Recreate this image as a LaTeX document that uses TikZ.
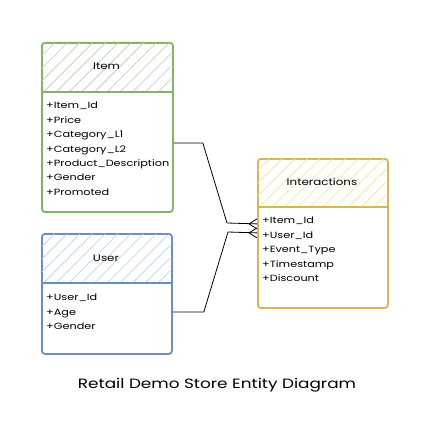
\documentclass[tikz,border=0pt]{standalone}
\usepackage{fontspec}
\setmainfont{Poppins}
\newfontfamily\hand[FakeStretch=1.25]{Poppins}
\usetikzlibrary{patterns.meta,calc}
\definecolor{gline}{HTML}{82B366}
\definecolor{gfill}{HTML}{BFD9B8}
\definecolor{bline}{HTML}{6C8EBF}
\definecolor{bfill}{HTML}{C3D6F0}
\definecolor{yline}{HTML}{D6B656}
\definecolor{yfill}{HTML}{F8E6A8}
\tikzset{
  ent/.style={draw, line width=1.8pt, rounded corners=3pt, fill=white, anchor=north west, inner sep=0pt},
  hatch/.style={pattern={Lines[angle=45,distance=9pt,line width=0.8pt]}, pattern color=#1},
  ttl/.style={font=\hand\fontsize{9.5}{11}\selectfont},
  attr/.style={font=\hand\fontsize{9}{14.4}\selectfont, align=left, anchor=north west, inner sep=0pt},
  conn/.style={draw=black, line width=0.8pt},
  captxt/.style={font=\hand\fontsize{13.5}{15}\selectfont}
}
\begin{document}
\begin{tikzpicture}[x=1pt,y=-1pt]
\useasboundingbox (0,0) rectangle (428,441);
% Item
\node[ent, draw=gline, minimum width=131pt, minimum height=169pt] (item) at (41,42) {};
\fill[hatch=gfill, rounded corners=3pt] (42,43) rectangle (171,92);
\draw[gline, line width=1.8pt] (41,92) -- (172,92);
\node[ttl] (itemt) at (106.5,66) {Item};
\node[attr] (itema) at (46,102) {+Item\_Id\\+Price\\+Category\_L1\\+Category\_L2\\+Product\_Description\\+Gender\\+Promoted};
% User
\node[ent, draw=bline, minimum width=130pt, minimum height=120pt] (user) at (41,233) {};
\fill[hatch=bfill, rounded corners=3pt] (42,234) rectangle (170,283);
\draw[bline, line width=1.8pt] (41,283) -- (171,283);
\node[ttl] (usert) at (106,258) {User};
\node[attr] (usera) at (46,294) {+User\_Id\\+Age\\+Gender};
% Interactions
\node[ent, draw=yline, minimum width=130pt, minimum height=149pt] (inter) at (257,158) {};
\fill[hatch=yfill, rounded corners=3pt] (258,159) rectangle (386,207);
\draw[yline, line width=1.8pt] (257,207) -- (387,207);
\node[ttl] (intert) at (322,182) {Interactions};
\node[attr] (intera) at (262,217) {+Item\_Id\\+User\_Id\\+Event\_Type\\+Timestamp\\+Discount};
% connectors
\coordinate (e1) at ($(inter.west)+(0,-9.5)$);
\coordinate (e2) at ($(inter.west)+(0,-0.5)$);
\draw[conn] ($(item.north east)+(0,101)$) -- ++(29,0) -- (227,223) -- (e1);
\draw[conn] ($(user.north east)+(0,79)$) -- ++(31,0) -- (228,232) -- (e2);
\foreach \e in {e1,e2}{
  \draw[conn] ($(\e)+(-8,0)$) -- ($(\e)+(0,-5)$);
  \draw[conn] ($(\e)+(-8,0)$) -- ($(\e)+(0,5)$);
}
\node[captxt] (caption) at (217,385) {Retail Demo Store Entity Diagram};
\end{tikzpicture}
\end{document}
